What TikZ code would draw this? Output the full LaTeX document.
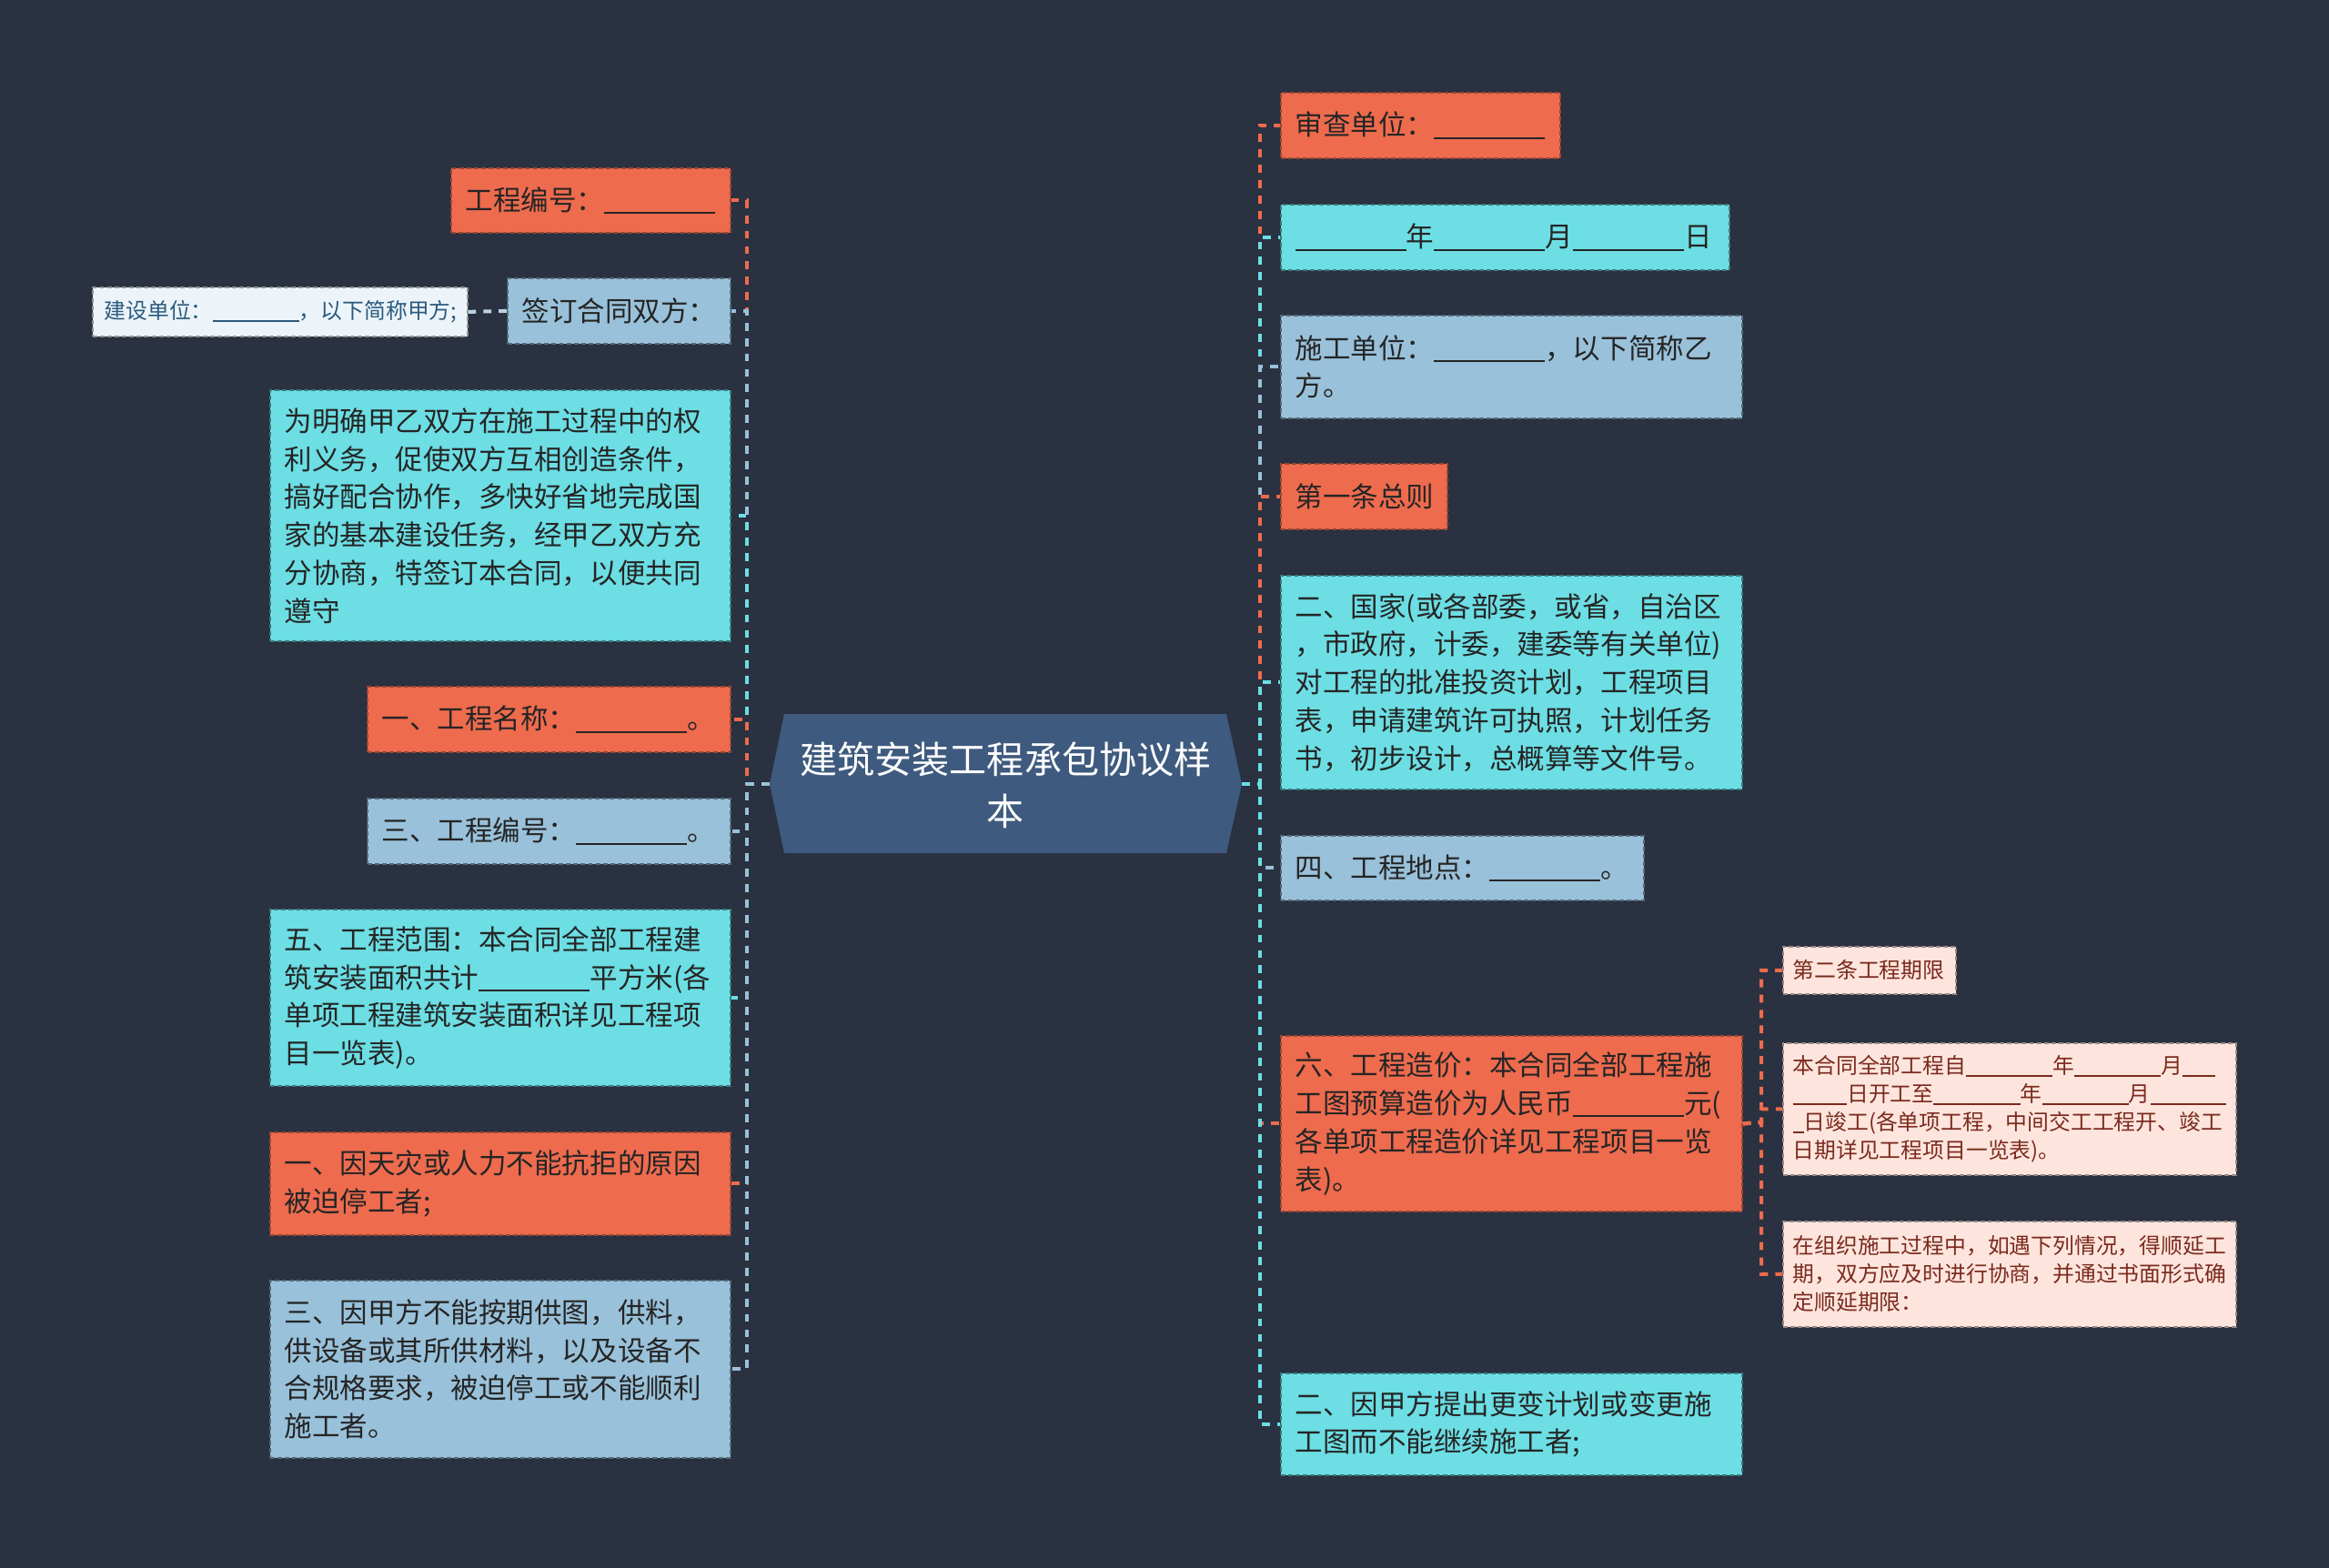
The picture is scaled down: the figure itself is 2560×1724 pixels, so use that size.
\documentclass[tikz,border=0pt]{standalone}
\usepackage{fontspec}
\setmainfont{Noto Sans CJK SC}
\definecolor{bgc}{HTML}{2A3140}
\definecolor{cOr}{HTML}{EE6B4E}
\definecolor{cCy}{HTML}{6CDEE4}
\definecolor{cBl}{HTML}{99C1DA}
\definecolor{cPk}{HTML}{FDE5DD}
\definecolor{cWh}{HTML}{ECF4F9}
\definecolor{cCt}{HTML}{3E5A7E}
\definecolor{cTx}{HTML}{252525}
\definecolor{cPkTx}{HTML}{7B2A1E}
\definecolor{cWhTx}{HTML}{2A5A7E}
\definecolor{cSub}{HTML}{B9D3E4}
% blank line of n underscores (0.5em each)
\newcommand\us[1]{\rule[-0.12em]{\dimexpr #1\dimexpr 0.5em\relax\relax}{0.06em}}
\newcommand\bx[7]{%
  \node[#2, anchor=north west, inner sep=0pt, minimum width={(#5-#3)*0.01cm}, minimum height={(#6-#4)*0.01cm}] (#1) at (#3,#4) {};
  \node[#2text, anchor=west, align=left, inner sep=0pt] (#1t) at ([xshift=\csname padof#2\endcsname]#1.west) {#7};
}
\def\padofob{0.16cm}\def\padofcb{0.16cm}\def\padofbb{0.16cm}\def\padofpb{0.11cm}\def\padofwb{0.13cm}
\tikzset{
  boxline/.style={line width=0.5pt, dash pattern=on 1.4pt off 0.9pt},
  ob/.style={boxline, fill=cOr, draw=cOr!65!black},
  cb/.style={boxline, fill=cCy, draw=cCy!55!black},
  bb/.style={boxline, fill=cBl, draw=cBl!55!black},
  pb/.style={boxline, fill=cPk, draw=cPk!60!black},
  wb/.style={boxline, fill=cWh, draw=cWh!60!black},
  bigtext/.style={text=cTx, font=\fontsize{8.68pt}{11.87pt}\selectfont},
  smalltext/.style={font=\fontsize{6.77pt}{8.82pt}\selectfont},
  obtext/.style={bigtext},
  cbtext/.style={bigtext},
  bbtext/.style={bigtext},
  pbtext/.style={smalltext, text=cPkTx},
  wbtext/.style={smalltext, text=cWhTx},
  conn/.style={line width=1.15pt, dash pattern=on 2.5pt off 2.3pt},
}
\begin{document}
\begin{tikzpicture}[x=0.01cm, y=-0.01cm]
\fill[bgc] (0,0) rectangle (2560,1724);
\useasboundingbox (0,0) rectangle (2560,1724);

% centre
\fill[cCt] (846,862) -- (862,785) -- (1348,785) -- (1365,862) -- (1348,938) -- (862,938) -- cycle;
\node[text=white, align=center, inner sep=0pt, font=\fontsize{11.67pt}{16.2pt}\selectfont] (c) at (1105.5,863) {建筑安装工程承包协议样\\本};
\coordinate (cL) at (846,862);
\coordinate (cR) at (1365,862);
\coordinate (tL) at (821,862);
\coordinate (tR) at (1385,862);
\coordinate (t7) at (1936,1234);

% left boxes
\bx{L1}{ob}{495}{184}{802}{255}{工程编号：\us{8}}
\bx{L2}{bb}{557}{305}{802}{377}{签订合同双方：}
\bx{L2a}{wb}{101}{315}{513}{369}{建设单位：\us{8}，以下简称甲方;}
\bx{L3}{cb}{296}{428}{802}{704}{为明确甲乙双方在施工过程中的权\\利义务，促使双方互相创造条件，\\搞好配合协作，多快好省地完成国\\家的基本建设任务，经甲乙双方充\\分协商，特签订本合同，以便共同\\遵守}
\bx{L4}{ob}{403}{754}{802}{826}{一、工程名称：\us{8}。}
\bx{L5}{bb}{403}{877}{802}{949}{三、工程编号：\us{8}。}
\bx{L6}{cb}{296}{999}{802}{1193}{五、工程范围：本合同全部工程建\\筑安装面积共计\us{8}平方米(各\\单项工程建筑安装面积详见工程项\\目一览表)。}
\bx{L7}{ob}{296}{1244}{802}{1357}{一、因天灾或人力不能抗拒的原因\\被迫停工者;}
\bx{L8}{bb}{296}{1407}{802}{1602}{三、因甲方不能按期供图，供料，\\供设备或其所供材料，以及设备不\\合规格要求，被迫停工或不能顺利\\施工者。}

% right boxes
\bx{R1}{ob}{1407}{101}{1714}{173}{审查单位：\us{8}}
\bx{R2}{cb}{1407}{224}{1900}{296}{\us{8}年\us{8}月\us{8}日}
\bx{R3}{bb}{1407}{346}{1914}{459}{施工单位：\us{8}，以下简称乙\\方。}
\bx{R4}{ob}{1407}{509}{1590}{581}{第一条总则}
\bx{R5}{cb}{1407}{632}{1914}{867}{二、国家(或各部委，或省，自治区\\，市政府，计委，建委等有关单位)\\对工程的批准投资计划，工程项目\\表，申请建筑许可执照，计划任务\\书，初步设计，总概算等文件号。}
\bx{R6}{bb}{1407}{918}{1806}{989}{四、工程地点：\us{8}。}
\bx{R7}{ob}{1407}{1138}{1914}{1331}{六、工程造价：本合同全部工程施\\工图预算造价为人民币\us{8}元(\\各单项工程造价详见工程项目一览\\表)。}
\bx{R7a}{pb}{1959}{1040}{2149}{1092}{第二条工程期限}
\bx{R7b}{pb}{1959}{1146}{2457}{1291}{本合同全部工程自\us{8}年\us{8}月\us{3}\\\us{5}日开工至\us{8}年\us{8}月\us{7}\\\us{1}日竣工(各单项工程，中间交工工程开、竣工\\日期详见工程项目一览表)。}
\bx{R7c}{pb}{1959}{1342}{2457}{1458}{在组织施工过程中，如遇下列情况，得顺延工\\期，双方应及时进行协商，并通过书面形式确\\定顺延期限：}
\bx{R8}{cb}{1407}{1509}{1914}{1621}{二、因甲方提出更变计划或变更施\\工图而不能继续施工者;}

% connectors left
\draw[conn, cOr] (cL) -- (tL) |- (L1.east);
\draw[conn, cBl] (cL) -- (tL) |- (L2.east);
\draw[conn, cCy] (cL) -- (tL) |- (L3.east);
\draw[conn, cOr] (cL) -- (tL) |- (L4.east);
\draw[conn, cBl] (cL) -- (tL) |- (L5.east);
\draw[conn, cCy] (cL) -- (tL) |- (L6.east);
\draw[conn, cOr] (cL) -- (tL) |- (L7.east);
\draw[conn, cBl] (cL) -- (tL) |- (L8.east);
\draw[conn, cSub] (L2.west) -- (L2a.east);

% connectors right
\draw[conn, cOr] (cR) -- (tR) |- (R1.west);
\draw[conn, cCy] (cR) -- (tR) |- (R2.west);
\draw[conn, cBl] (cR) -- (tR) |- (R3.west);
\draw[conn, cOr] (cR) -- (tR) |- (R4.west);
\draw[conn, cCy] (cR) -- (tR) |- (R5.west);
\draw[conn, cBl] (cR) -- (tR) |- (R6.west);
\draw[conn, cOr] (cR) -- (tR) |- (R7.west);
\draw[conn, cCy] (cR) -- (tR) |- (R8.west);
\draw[conn, cOr] (R7.east) -- (t7) |- (R7a.west);
\draw[conn, cOr] (R7.east) -- (t7) |- (R7b.west);
\draw[conn, cOr] (R7.east) -- (t7) |- (R7c.west);
\end{tikzpicture}
\end{document}
